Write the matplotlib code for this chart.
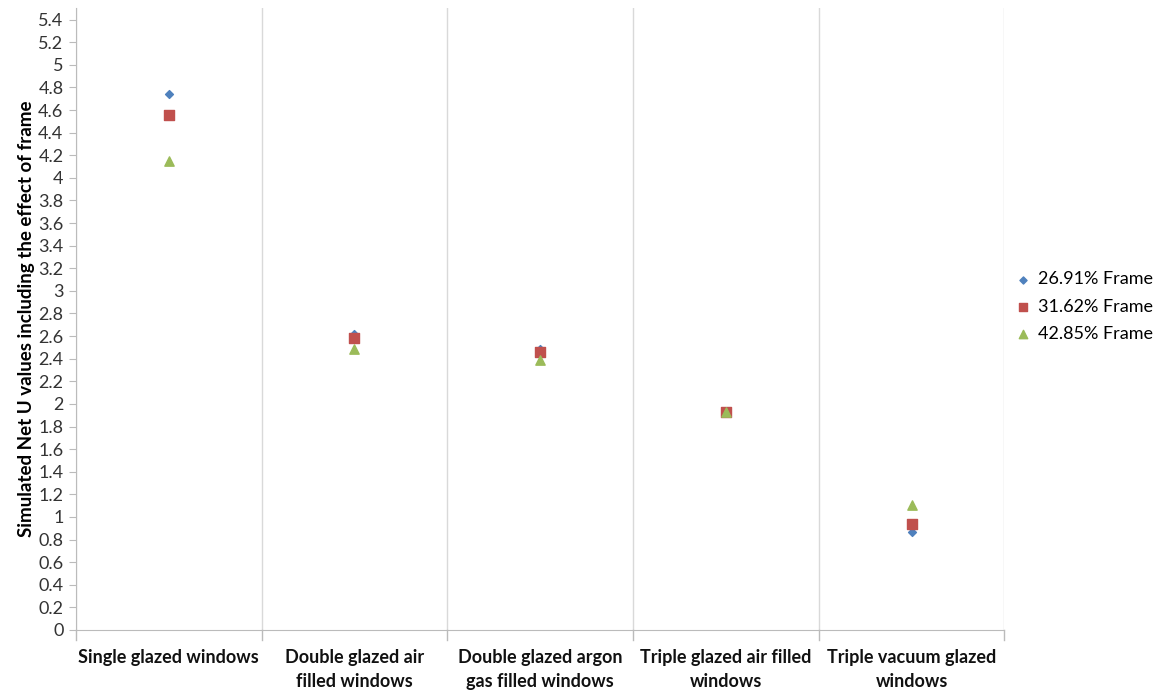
import matplotlib.pyplot as plt
import numpy as np

plt.rcParams['font.family'] = ['Lato', 'DejaVu Sans']

categories = ["Single glazed windows", "Double glazed air\nfilled windows",
              "Double glazed argon\ngas filled windows", "Triple glazed air filled\nwindows",
              "Triple vacuum glazed\nwindows"]
frame_2691 = [4.74, 2.62, 2.49, 1.93, 0.87]
frame_3162 = [4.56, 2.58, 2.46, 1.93, 0.94]
frame_4285 = [4.15, 2.49, 2.39, 1.93, 1.11]
yticks = np.round(np.arange(0, 5.41, 0.2), 1)

fig = plt.figure(figsize=(11.68, 6.9), dpi=100)
ax = fig.add_axes([0.065, 0.087, 0.795, 0.901])

x = np.arange(len(categories))
ax.scatter(x, frame_2691, marker='D', s=16, color='#4F81BD', label='26.91% Frame', zorder=3)
ax.scatter(x, frame_3162, marker='s', s=45, color='#C0504D', label='31.62% Frame', zorder=3)
ax.scatter(x, frame_4285, marker='^', s=45, color='#9BBB59', label='42.85% Frame', zorder=3)

ax.set_xlim(-0.5, len(categories) - 0.5)
ax.set_ylim(0, 5.5)
ax.set_yticks(yticks)
ax.set_yticklabels([f'{v:g}' for v in yticks], fontsize=13, color='#333333')
ax.set_xticks(x)
ax.set_xticklabels(categories, fontsize=13, fontweight='bold', color='#111111',
                   linespacing=1.45)
ax.tick_params(axis='x', length=0, pad=14)
ax.tick_params(axis='y', length=5, color='#BBBBBB', pad=4)

# category separators
for b in np.arange(-0.5, len(categories), 1.0):
    ax.axvline(b, color='#D9D9D9', lw=1, zorder=0)
    ax.plot([b, b], [0, -0.09], color='#BBBBBB', lw=1, clip_on=False)

for side in ['top', 'right']:
    ax.spines[side].set_visible(False)
ax.spines['left'].set_color('#BBBBBB')
ax.spines['bottom'].set_color('#BBBBBB')

ax.set_ylabel('Simulated Net U values including the effect of frame', fontsize=13.5,
              fontweight='bold', labelpad=2)

ax.legend(loc='center left', bbox_to_anchor=(0.995, 0.52), frameon=False, fontsize=13,
          handlelength=0.8, handletextpad=0.4, labelspacing=0.62, markerscale=0.9)

plt.savefig('out.png', dpi=100)
